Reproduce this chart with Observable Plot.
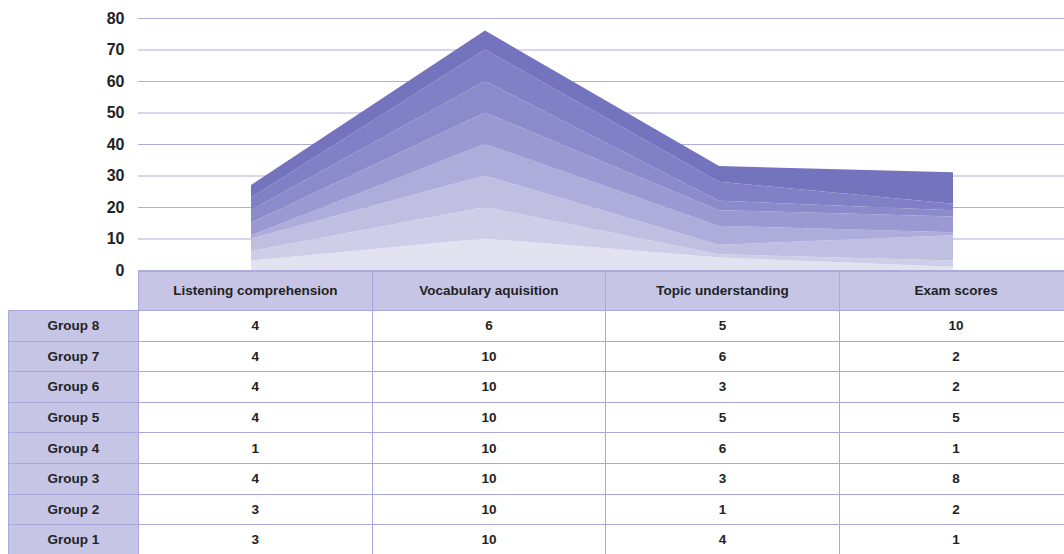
<!DOCTYPE html>
<html>
<head>
<meta charset="utf-8">
<script src="https://cdn.jsdelivr.net/npm/d3@7"></script>
<script src="https://cdn.jsdelivr.net/npm/@observablehq/plot@0.6"></script>
<style>
  html, body { margin: 0; padding: 0; background: #fff; width: 1064px; height: 554px; overflow: hidden; }
  #wrap { position: relative; width: 1064px; height: 554px; }
  #chart { position: absolute; left: 0; top: 0; }
  #table { position: absolute; left: 8px; top: 270.5px; border-collapse: collapse; table-layout: fixed;
           font-family: "Liberation Sans", Arial, sans-serif; font-weight: bold; font-size: 13.5px; color: #222; }
  #table td, #table th { border: 1px solid #a9a7db; text-align: center; padding: 0; overflow: hidden; white-space: nowrap; }
  #table th { background: #c6c5e6; height: 38.5px; font-weight: bold; border-top-width: 1.5px; }
  #table th.blank { background: transparent; border: none; border-bottom: 1px solid #a9a7db; }
  #table td.rh { background: #c6c5e6; }
  #table td { height: 29.6px; background: #fff; }
</style>
</head>
<body>
<div id="wrap">
  <div id="chart"></div>
  <table id="table"></table>
</div>
<script>
const categories = ["Listening comprehension", "Vocabulary aquisition", "Topic understanding", "Exam scores"];
const groups = ["Group 1", "Group 2", "Group 3", "Group 4", "Group 5", "Group 6", "Group 7", "Group 8"];
const group1 = [3, 10, 4, 1];
const group2 = [3, 10, 1, 2];
const group3 = [4, 10, 3, 8];
const group4 = [1, 10, 6, 1];
const group5 = [4, 10, 5, 5];
const group6 = [4, 10, 3, 2];
const group7 = [4, 10, 6, 2];
const group8 = [4, 6, 5, 10];
const yTicks = [0, 10, 20, 30, 40, 50, 60, 70, 80];
const colors = ["#e3e2f1", "#cfcee9", "#c0bfe2", "#aeacda", "#9a99d1", "#8b8acb", "#8180c6", "#7473be"];

const series = [group1, group2, group3, group4, group5, group6, group7, group8];
const data = [];
series.forEach((vals, gi) => {
  vals.forEach((v, ci) => data.push({ group: groups[gi], category: categories[ci], value: v }));
});

const chart = Plot.plot({
  width: 1064,
  height: 280,
  marginTop: 18,
  marginBottom: 10,
  marginLeft: 138,
  marginRight: 0,
  style: { fontFamily: "'Liberation Sans', Arial, sans-serif", background: "transparent" },
  x: { type: "point", domain: categories, range: [249.5, 954], padding: 0, axis: null },
  y: { domain: [0, 80], ticks: yTicks, tickSize: 0, tickPadding: 14, label: null },
  color: { domain: groups, range: colors },
  marks: [
    Plot.ruleY(yTicks, { stroke: "#b0aedc", strokeWidth: 1.2 }),
    Plot.areaY(data, { x: "category", y: "value", fill: "group", z: "group" }),
    Plot.axisY({ ticks: yTicks, tickSize: 0, tickPadding: 14, fontSize: 16, fontWeight: "bold", fill: "#222", label: null })
  ]
});
document.getElementById("chart").appendChild(chart);

// data table
const table = document.getElementById("table");
const colgroup = document.createElement("colgroup");
[130, 233.6, 233.6, 233.6, 233.6].forEach(w => {
  const c = document.createElement("col");
  c.style.width = w + "px";
  colgroup.appendChild(c);
});
table.appendChild(colgroup);
const head = document.createElement("tr");
const blank = document.createElement("th");
blank.className = "blank";
head.appendChild(blank);
categories.forEach(c => {
  const th = document.createElement("th");
  th.textContent = c;
  head.appendChild(th);
});
table.appendChild(head);
for (let gi = groups.length - 1; gi >= 0; gi--) {
  const tr = document.createElement("tr");
  const rh = document.createElement("td");
  rh.className = "rh";
  rh.textContent = groups[gi];
  tr.appendChild(rh);
  series[gi].forEach(v => {
    const td = document.createElement("td");
    td.textContent = v;
    tr.appendChild(td);
  });
  table.appendChild(tr);
}
table.style.width = (130 + 233.6 * 4) + "px";
</script>
</body>
</html>
